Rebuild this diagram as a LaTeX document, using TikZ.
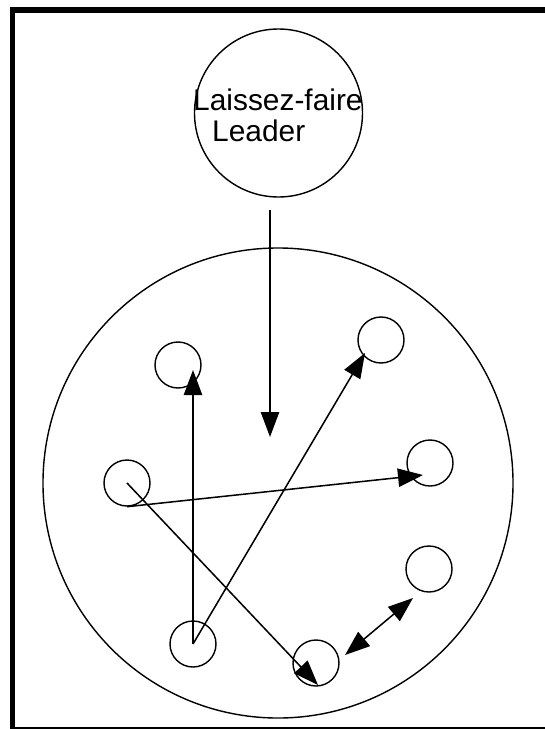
\documentclass[tikz,border=0pt]{standalone}
\usepackage{fontspec}
\setmainfont{Liberation Sans}
\usetikzlibrary{arrows.meta}

\begin{document}
\begin{tikzpicture}[
    x=0.03cm, y=-0.03cm,
    member/.style={
        draw,
        circle,
        line width=1.2pt,
        minimum size=1.38cm,
        inner sep=0pt
    },
    link/.style={line width=1.3pt},
    >={Triangle[length=0.75cm, width=0.55cm]}
]

\useasboundingbox (0,0) rectangle (545,729);
\clip (0,0) rectangle (545,729);
\draw[line width=4.3pt] (12.5,10) rectangle (600,730);

\node[member, minimum size=14.1cm] (group) at (278,483) {};
\node[member, minimum size=5.04cm] (leader) at (278.5,113) {};
\node[anchor=base west, align=left, inner sep=0pt,
      font=\fontsize{25.5pt}{26.4pt}\selectfont] (title) at (193,141) {
    Laissez-faire\\
    \hspace{0.57cm}Leader
};

\node[member] (m1) at (178,365) {};
\node[member] (m2) at (381,340) {};
\node[member] (m3) at (127,483) {};
\node[member] (m4) at (430,463) {};
\node[member] (m5) at (429,569) {};
\node[member] (m6) at (193,644) {};
\node[member] (m7) at (316,663) {};

\coordinate (gtip) at (270,437);
\coordinate (t1) at (193,370);
\coordinate (t2) at (365,353);
\coordinate (t4) at (423,475);
\coordinate (t7) at (318,685);
\coordinate (e7) at (345,655);
\coordinate (e5) at (413,598);

\draw[->,link,shorten <=0.36cm] (leader.south -| gtip) -- (gtip);
\draw[->,link] (m6.center) -- (t1);
\draw[->,link] (m6.center) -- (t2);
\draw[->,link] (m3.south) -- (t4);
\draw[->,link] (m3.center) -- (t7);
\draw[<->,link] (e7) -- (e5);

\end{tikzpicture}
\end{document}
